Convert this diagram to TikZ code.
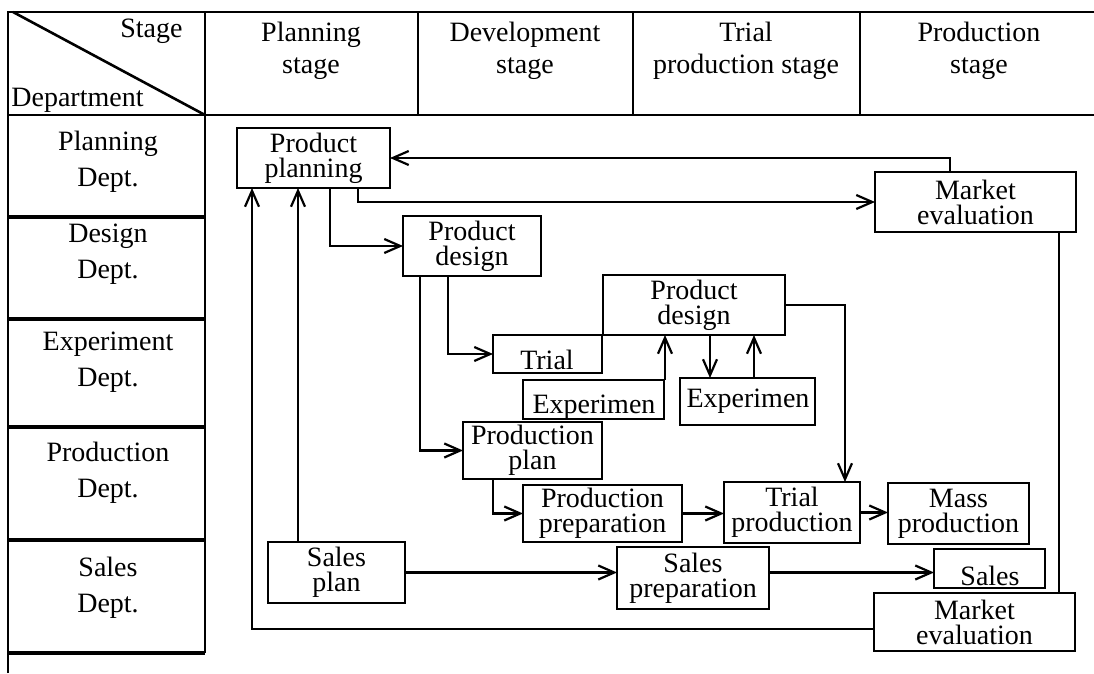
\documentclass[tikz,border=0pt]{standalone}
\usepackage{fontspec}
\setmainfont{Liberation Serif}
\usetikzlibrary{arrows.meta}
\begin{document}
\begin{tikzpicture}[x=0.5pt,y=-0.5pt,
  gridline/.style={line width=1.3pt},
  gridsep/.style={line width=2pt},
  boxnode/.style={draw, line width=1.3pt, inner sep=0pt, outer sep=0pt, align=center, font=\fontsize{14}{12.5}\selectfont},
  txtnode/.style={font=\fontsize{14}{12.5}\selectfont, inner sep=0pt},
  hdrtext/.style={align=center, font=\fontsize{14}{16}\selectfont, inner sep=0pt},
  depttext/.style={align=center, font=\fontsize{14}{18}\selectfont, inner sep=0pt},
  conn/.style={line width=1.1pt},
  arrconn/.style={conn, -{Straight Barb[length=8pt,width=7pt]}}]
\useasboundingbox (0,0) rectangle (1094,674);

% ---- grid ----
\draw[gridline] (8,673) -- (8,12) -- (1094,12);
\draw[gridline] (8,115) -- (1094,115);
\draw[gridline] (205,12) -- (205,653);
\foreach \xx in {418,633,860} \draw[gridline] (\xx,12) -- (\xx,115);
\draw[gridline] (13,12) -- (205,115);
\foreach \yy in {217,319,427,540,653} \draw[gridsep] (8,\yy) -- (205,\yy);

% ---- header texts ----
\node[hdrtext, anchor=east] (hstage) at (183,31) {Stage};
\node[hdrtext, anchor=west] (hdept) at (11,100) {Department};
\node[hdrtext] (hplan) at (311,51) {Planning\\stage};
\node[hdrtext] (hdev) at (525,51) {Development\\stage};
\node[hdrtext] (htrial) at (746,51) {Trial\\production stage};
\node[hdrtext] (hprod) at (979,51) {Production\\stage};

% ---- department texts ----
\node[depttext] (dplan) at (108,162) {Planning\\Dept.};
\node[depttext] (ddes) at (108,254) {Design\\Dept.};
\node[depttext] (dexp) at (108,362) {Experiment\\Dept.};
\node[depttext] (dprod) at (108,473) {Production\\Dept.};
\node[depttext] (dsales) at (108,588) {Sales\\Dept.};

% ---- boxes ----
\node[boxnode, minimum width=76.5pt, minimum height=30pt] (pp) at (313.5,158) {Product\\planning};
\node[boxnode, minimum width=100.5pt, minimum height=30pt] (me1) at (975.5,202) {Market\\evaluation};
\node[boxnode, minimum width=69pt, minimum height=30pt] (pd1) at (472,246) {Product\\design};
\node[boxnode, minimum width=91pt, minimum height=30pt] (pd2) at (694,305) {Product\\design};
\node[boxnode, minimum width=54.5pt, minimum height=19pt] (trial) at (547.5,354) {};
\node[txtnode, anchor=base] (ttrial) at (547,369) {Trial};
\node[boxnode, minimum width=70.5pt, minimum height=19.5pt] (exp1) at (593.5,399.5) {};
\node[txtnode, anchor=base] (texp1) at (594,413) {Experimen};
\node[boxnode, minimum width=67.5pt, minimum height=23.5pt] (exp2) at (747.5,401.5) {};
\node[txtnode, anchor=base] (texp2) at (748,408) {Experimen};
\node[boxnode, minimum width=69.5pt, minimum height=28.5pt] (pplan) at (532.5,450.5) {Production\\plan};
\node[boxnode, minimum width=79.5pt, minimum height=28.5pt] (prep) at (602.5,513.5) {Production\\preparation};
\node[boxnode, minimum width=68pt, minimum height=30.5pt] (tp) at (792,512.5) {Trial\\production};
\node[boxnode, minimum width=70.5pt, minimum height=30.5pt] (mp) at (958.5,513.5) {Mass\\production};
\node[boxnode, minimum width=68.5pt, minimum height=30.5pt] (sp) at (336.5,572.5) {Sales\\plan};
\node[boxnode, minimum width=76pt, minimum height=31pt] (sprep) at (693,578) {Sales\\preparation};
\node[boxnode, minimum width=55.5pt, minimum height=19.5pt] (sales) at (989.5,568.5) {};
\node[txtnode, anchor=base] (tsales) at (990,585) {Sales};
\node[boxnode, minimum width=100.5pt, minimum height=29pt] (me2) at (974.5,622) {Market\\evaluation};

% ---- lane coordinates ----
\coordinate (x252) at (252,0);
\coordinate (x298) at (298,0);
\coordinate (x330) at (330,0);
\coordinate (x358) at (358,0);
\coordinate (x420) at (420,0);
\coordinate (x448) at (448,0);
\coordinate (x493) at (493,0);
\coordinate (x665) at (665,0);
\coordinate (x710) at (710,0);
\coordinate (x754) at (754,0);
\coordinate (x845) at (845,0);
\coordinate (x950) at (950,0);
\coordinate (x1059) at (1059,0);
\coordinate (y629) at (0,629);

% ---- connectors ----
\draw[arrconn] (me1.north -| x950) |- (pp.east);
\draw[arrconn] (pp.south -| x358) |- (me1.west);
\draw[arrconn] (pp.south -| x330) |- (pd1.west);
\draw[arrconn] (sp.north -| x298) -- (pp.south -| x298);
\draw[arrconn] (me2.west |- y629) -| (pp.south -| x252);
\draw[arrconn] (pd1.south -| x448) |- (trial.west);
\draw[arrconn] (pd1.south -| x420) |- (pplan.west);
\draw[arrconn] (pplan.south -| x493) |- (prep.west);
\draw[arrconn] (prep.east) -- (prep.east -| tp.west);
\draw[arrconn] (tp.east) -- (tp.east -| mp.west);
\draw[arrconn] (sp.east) -- (sp.east -| sprep.west);
\draw[arrconn] (sprep.east |- sp.east) -- (sales.west |- sp.east);
\draw[arrconn] (exp1.north -| x665) -- (pd2.south -| x665);
\draw[arrconn] (pd2.south -| x710) -- (exp2.north -| x710);
\draw[arrconn] (exp2.north -| x754) -- (pd2.south -| x754);
\draw[arrconn] (pd2.east) -| (tp.north -| x845);
\draw[conn] (me1.south -| x1059) -- (me2.north -| x1059);
\end{tikzpicture}
\end{document}
